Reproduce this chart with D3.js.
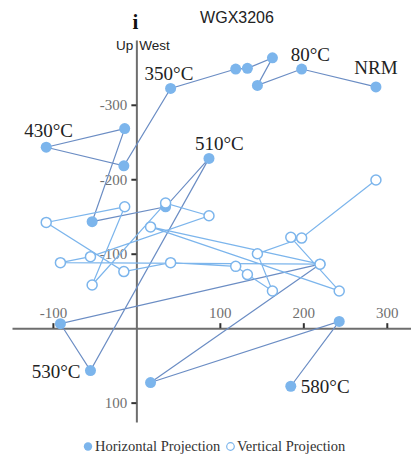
<!DOCTYPE html>
<html>
<head>
<meta charset="utf-8">
<script src="https://cdn.jsdelivr.net/npm/d3@7/dist/d3.min.js"></script>
<style>
  html, body { margin: 0; padding: 0; background: #fff; }
  svg { display: block; }
</style>
</head>
<body>
<svg id="chart" width="411" height="457"></svg>
<script>
// Demagnetisation steps of specimen WGX3206 (Zijderveld diagram)
const stepLabels = ["NRM", "80°C", "", "", "", "", "350°C", "", "430°C", "", "", "", "510°C", "530°C", "", "", "", "", "580°C"];
// Shared horizontal axis component (North)
const north = [287, 198, 145, 163, 133, 119, 41, -15, -108, -14, -53, 35, 87, -55, -91, 220, 17, 243, 185];
// Horizontal projection: West component
const west = [-324, -348, -326, -363, -349, -348, -322, -218, -243, -268, -143, -163, -228, 57, -6, -86, 73, -9, 78];
// Vertical projection: Up component
const up = [-199, -121, -100, -50, -72, -83, -88, -76, -142, -163, -58, -168, -151, -96, -88, -86, -136, -50, -122];

const xTicks = [-100, 100, 200, 300];
const yTicks = [-300, -200, -100, 100];
const xExtent = [-149, 329];
const yExtent = [-387, 126];

const title = "WGX3206";
const seriesNames = ["Horizontal Projection", "Vertical Projection"];

// label placement relative to each labelled point (dx, dy, anchor)
const labelPlacement = {
  "NRM":   [0, -12.5, "middle"],
  "80°C":  [-11, -8.5, "start"],
  "350°C": [-26, -8, "start"],
  "430°C": [-22, -10.5, "start"],
  "510°C": [-14, -8.5, "start"],
  "530°C": [-10, 7.5, "end"],
  "580°C": [10, 7, "start"]
};

const svg = d3.select("#chart");
const serif = "'Liberation Serif', 'Times New Roman', serif";
const sans = "'Liberation Sans', Arial, sans-serif";

const x = d3.scaleLinear().domain(xExtent).range([12, 411]);
const y = d3.scaleLinear().domain(yExtent).range([40, 422]);

const blue = "#7cb5ec";
const hLine = "#6b8dc4";
const plain = d => String(d);

// axes crossing at the origin
const xAxis = svg.append("g")
  .attr("transform", `translate(0,${y(0)})`)
  .call(d3.axisTop(x).tickValues(xTicks).tickSize(5).tickSizeOuter(0).tickPadding(5).tickFormat(plain));
const yAxis = svg.append("g")
  .attr("transform", `translate(${x(0)},0)`)
  .call(d3.axisLeft(y).tickValues(yTicks).tickSize(5).tickSizeOuter(0).tickPadding(4).tickFormat(plain));

[xAxis, yAxis].forEach(g => {
  g.select(".domain").attr("stroke", "#6e6e6e").attr("stroke-width", 2);
  g.selectAll(".tick line").attr("stroke", "#333").attr("stroke-width", 2);
  g.selectAll(".tick text")
    .attr("fill", "#707070")
    .style("font-family", serif)
    .style("font-size", "15px");
});

const pts = north.map((n, i) => ({ n, w: west[i], u: up[i], label: stepLabels[i] }));

// horizontal projection (filled)
svg.append("path")
  .datum(pts)
  .attr("fill", "none")
  .attr("stroke", hLine)
  .attr("stroke-width", 1.2)
  .attr("d", d3.line().x(d => x(d.n)).y(d => y(d.w)));

svg.append("g").selectAll("circle")
  .data(pts).join("circle")
  .attr("cx", d => x(d.n))
  .attr("cy", d => y(d.w))
  .attr("r", 5.5)
  .attr("fill", blue);

// vertical projection (open)
svg.append("path")
  .datum(pts)
  .attr("fill", "none")
  .attr("stroke", blue)
  .attr("stroke-width", 1.2)
  .attr("d", d3.line().x(d => x(d.n)).y(d => y(d.u)));

svg.append("g").selectAll("circle")
  .data(pts).join("circle")
  .attr("cx", d => x(d.n))
  .attr("cy", d => y(d.u))
  .attr("r", 5)
  .attr("fill", "#fff")
  .attr("stroke", blue)
  .attr("stroke-width", 1.5);

// step labels next to the horizontal projection points
svg.append("g").selectAll("text")
  .data(pts.filter(d => d.label))
  .join("text")
  .attr("x", d => x(d.n) + labelPlacement[d.label][0])
  .attr("y", d => y(d.w) + labelPlacement[d.label][1])
  .attr("text-anchor", d => labelPlacement[d.label][2])
  .attr("fill", "#222")
  .style("font-family", serif)
  .style("font-size", "19px")
  .text(d => d.label);

// title and axis captions
svg.append("text")
  .attr("x", 237).attr("y", 23)
  .attr("text-anchor", "middle")
  .attr("fill", "#222")
  .style("font-family", sans)
  .style("font-size", "16px")
  .text(title);

svg.append("text")
  .attr("x", x(0) - 1).attr("y", 29)
  .attr("text-anchor", "middle")
  .attr("fill", "#111")
  .style("font-family", serif)
  .style("font-weight", "bold")
  .style("font-size", "21px")
  .text("i");

svg.append("text")
  .attr("x", x(0) - 3).attr("y", 50)
  .attr("text-anchor", "end")
  .attr("fill", "#222")
  .style("font-family", sans)
  .style("font-size", "13.5px")
  .text("Up");

svg.append("text")
  .attr("x", x(0) + 3).attr("y", 50)
  .attr("text-anchor", "start")
  .attr("fill", "#222")
  .style("font-family", sans)
  .style("font-size", "13.5px")
  .text("West");

// legend
const legend = svg.append("g").attr("transform", "translate(0,451)");
legend.append("circle").attr("cx", 88).attr("cy", -4.5).attr("r", 4.2).attr("fill", blue);
legend.append("text").attr("x", 95).attr("y", 0)
  .attr("fill", "#333").style("font-family", serif).style("font-size", "14.5px")
  .text(seriesNames[0]);
legend.append("circle").attr("cx", 230.5).attr("cy", -4.5).attr("r", 3.8)
  .attr("fill", "#fff").attr("stroke", blue).attr("stroke-width", 1.2);
legend.append("text").attr("x", 237).attr("y", 0)
  .attr("fill", "#333").style("font-family", serif).style("font-size", "14.5px")
  .text(seriesNames[1]);
</script>
</body>
</html>
